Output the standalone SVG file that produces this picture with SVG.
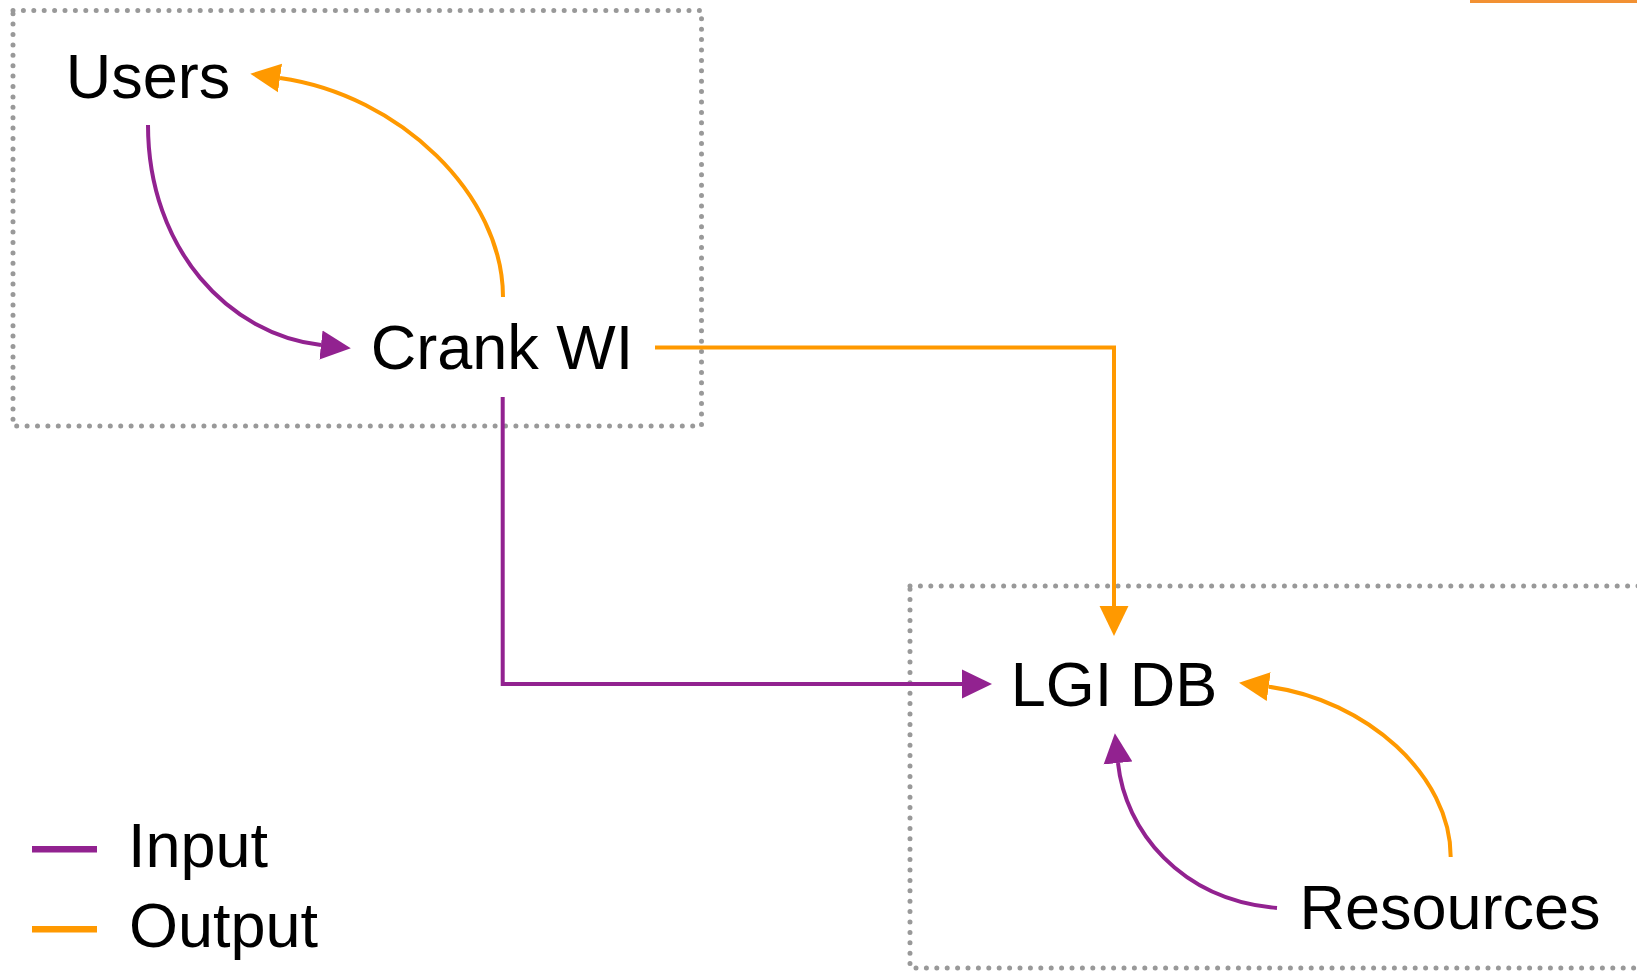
<svg xmlns="http://www.w3.org/2000/svg" width="1637" height="971" viewBox="0 0 1637 971">
<style>
.lbl{font-family:"Liberation Sans",Arial,sans-serif;font-size:63px;fill:#000;text-anchor:middle}
.leg{font-family:"Liberation Sans",Arial,sans-serif;font-size:63px;fill:#000}
.grp{fill:none;stroke:#999;stroke-width:5;stroke-dasharray:0 10.4;stroke-linecap:round}
.in{fill:none;stroke:#922290;stroke-width:4}
.out{fill:none;stroke:#FF9900;stroke-width:4}
</style>
<defs>
<marker id="ap" markerUnits="userSpaceOnUse" markerWidth="30" markerHeight="30" refX="0" refY="13.5" orient="auto" viewBox="0 0 28 27">
<path d="M0,0 L28,13.5 L0,27 z" fill="#922290"/>
</marker>
<marker id="ao" markerUnits="userSpaceOnUse" markerWidth="30" markerHeight="30" refX="0" refY="13.5" orient="auto" viewBox="0 0 28 27">
<path d="M0,0 L28,13.5 L0,27 z" fill="#FF9900"/>
</marker>
</defs>
<rect x="1470" y="0" width="167" height="3" fill="#F29133"/>
<g id="group-top"><rect class="grp" x="13" y="10.5" width="688.5" height="415.5"/></g>
<g id="group-bottom"><rect class="grp" x="910" y="586" width="800" height="382"/></g>
<g id="connectors">
<path class="in" d="M148,125 C148,250 230,335 321,345" marker-end="url(#ap)"/>
<path class="out" d="M503,297 C503,195 400,95 280,78" marker-end="url(#ao)"/>
<path class="out" d="M655,347.6 H1114 V606" marker-end="url(#ao)"/>
<path class="in" d="M502.7,397 V684 H962" marker-end="url(#ap)"/>
<path class="out" d="M1450.7,857 C1450.7,775 1366,700 1268.7,686.7" marker-end="url(#ao)"/>
<path class="in" d="M1277,908 C1180,900 1125,830 1118,763" marker-end="url(#ap)"/>
</g>
<g id="users"><text class="lbl" x="148" y="98">Users</text></g>
<g id="crank-wi"><text class="lbl" x="502" y="369">Crank WI</text></g>
<g id="lgi-db"><text class="lbl" x="1114" y="706">LGI DB</text></g>
<g id="resources"><text class="lbl" x="1450" y="929">Resources</text></g>
<g id="legend">
<line x1="32" y1="849.3" x2="97" y2="849.3" stroke="#922290" stroke-width="6.5"/>
<line x1="32" y1="929.3" x2="97" y2="929.3" stroke="#FF9900" stroke-width="6.5"/>
<text class="leg" x="128" y="867">Input</text>
<text class="leg" x="129" y="947">Output</text>
</g>
</svg>
